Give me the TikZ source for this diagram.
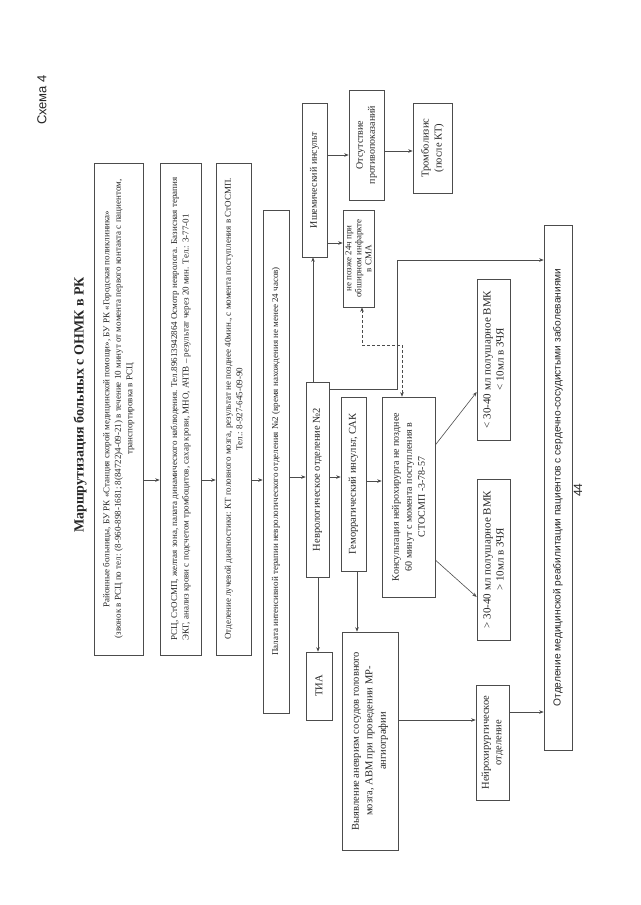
\documentclass[tikz,border=0pt]{standalone}
\usepackage{fontspec}
\setmainfont{Liberation Serif}
\newfontfamily\arialf{Liberation Sans}
\usetikzlibrary{arrows.meta}
\begin{document}
\begin{tikzpicture}[x=1pt,y=-1pt,
  box/.style={draw=black!70, line width=0.6pt, rotate=90, inner sep=1pt, align=center,
    font=\fontsize{9}{11.5}\selectfont, text=black!85},
  fs/.style 2 args={font=\fontsize{#1}{#2}\selectfont},
  arr/.style={draw=black!70, line width=0.6pt, -{Stealth[length=4.5pt,width=3.5pt]}},
  dline/.style={draw=black!70, line width=0.6pt, dash pattern=on 3pt off 2pt,
    {Stealth[length=4.5pt,width=3.5pt]}-{Stealth[length=4.5pt,width=3.5pt]}},
  lbl/.style={rotate=90, text=black!85}]
\useasboundingbox (0,0) rectangle (640,905);

% titles
\node[lbl, font=\arialf\fontsize{13}{15}\selectfont] (schema) at (42,100) {Схема 4};
\node[lbl, font=\bfseries\fontsize{14}{16}\selectfont] (title) at (80,405) {Маршрутизация больных с ОНМК в РК};
\node[lbl, font=\arialf\fontsize{12}{14}\selectfont] (page) at (578,490) {44};

% boxes
\node[box, minimum width=492pt, minimum height=49pt] (A) at (118.5,409)
 {Районные больницы, БУ РК «Станция скорой медицинской помощи», БУ РК «Городская поликлиника»\\
  (звонок в РСЦ по тел: (8-960-898-1681; 8(84722)4-09-21) в течение 10 минут от момента первого контакта с пациентом,\\
  транспортировка в РСЦ};
\node[box, align=left, minimum width=492pt, minimum height=41pt] (B) at (180.5,409)
 {РСЦ, СтОСМП, желтая зона, палата динамического наблюдения. Тел.89613942864 Осмотр невролога. Базисная терапия\\
  ЭКГ, анализ крови с подсчетом тромбоцитов, сахар крови, МНО, АЧТВ – результат через 20 мин. Тел.: 3-77-01};
\node[box, minimum width=492pt, minimum height=35pt] (C) at (233.5,409)
 {Отделение лучевой диагностики: КТ головного мозга, результат не позднее 40мин., с момента поступления в СтОСМП.\\
  Тел.: 8-927-645-09-90};
\node[box, minimum width=503pt, minimum height=26pt] (D) at (276,461.5)
 {Палата интенсивной терапии неврологического отделения №2 (время нахождения не менее 24 часов)};
\node[box, fs={10.5}{12.8}, minimum width=195pt, minimum height=23pt] (E) at (317.5,479.5)
 {Неврологическое отделение №2};
\node[box, fs={10}{12}, minimum width=154pt, minimum height=25pt] (F) at (314.5,180)
 {Ишемический инсульт};
\node[box, fs={10}{12}, minimum width=110pt, minimum height=35pt] (G) at (366.5,145)
 {Отсутствие\\противопоказаний};
\node[box, fs={10.5}{12.8}, minimum width=90pt, minimum height=39pt] (H) at (432.5,148)
 {Тромболизис\\(после КТ)};
\node[box, fs={9}{10}, minimum width=97pt, minimum height=31pt] (I) at (358.5,258.5)
 {не позже 24ч при\\обширном инфаркте\\в СМА};
\node[box, fs={10.5}{12.8}, minimum width=174pt, minimum height=25pt] (J) at (353.5,484)
 {Геморрагический инсульт, САК};
\node[box, fs={10}{13}, minimum width=200pt, minimum height=53pt] (K) at (408.5,497)
 {Консультация нейрохирурга не позднее\\60 минут с момента поступления в\\СТОСМП -3-78-57};
\node[box, fs={11}{13}, minimum width=161pt, minimum height=33pt] (L) at (493.5,359.5)
 {< 30-40 мл полушарное ВМК\\< 10мл в ЗЧЯ};
\node[box, fs={11}{13}, minimum width=161pt, minimum height=33pt] (M) at (493.5,559.5)
 {> 30-40 мл полушарное ВМК\\> 10мл в ЗЧЯ};
\node[box, fs={10.5}{12.8}, minimum width=68pt, minimum height=26pt] (N) at (319,686)
 {ТИА};
\node[box, fs={10.5}{13.5}, minimum width=218pt, minimum height=56pt] (O) at (370,741)
 {Выявление аневризм сосудов головного\\мозга, АВМ при проведении МР-\\ангиографии};
\node[box, fs={10.5}{12.5}, minimum width=115pt, minimum height=33pt] (P) at (492.5,742.5)
 {Нейрохирургическое\\отделение};
\node[box, minimum width=525pt, minimum height=28pt, font=\arialf\fontsize{10.2}{12}\selectfont] (Q) at (558,487.5)
 {Отделение медицинской реабилитации пациентов с сердечно-сосудистыми заболеваниями};

% connectors
\draw[arr] (A.south |- 0,480) -- (B.north |- 0,480);
\draw[arr] (B.south |- 0,480) -- (C.north |- 0,480);
\draw[arr] (C.south |- 0,480) -- (D.north |- 0,480);
\draw[arr] (D.south |- 0,477) -- (E.north |- 0,477);
\draw[arr] (E.south |- 0,477) -- (J.north |- 0,477);
\draw[arr] (J.south |- 0,481) -- (K.north |- 0,481);
\draw[arr] (K.south |- 0,445) -- (L.north |- 0,392);
\draw[arr] (K.south |- 0,560) -- (M.north |- 0,597);
\draw[arr] (E.east -| 313,0) -- (F.west -| 313,0);
\draw[arr] (F.south |- 0,155) -- (G.north |- 0,155);
\draw[arr] (F.south |- 0,243) -- (I.north |- 0,243);
\draw[arr] (G.south |- 0,151) -- (H.north |- 0,151);
\draw[arr] (E.south |- 0,389) -- (397,389) -- (397,260) -- (Q.north |- 0,260);
\draw[dline] (I.west -| 362,0) -- (362,345) -- (402,345) -- (K.east -| 402,0);
\draw[arr] (E.west -| 318,0) -- (N.east -| 318,0);
\draw[arr] (J.west -| 357,0) -- (O.east -| 357,0);
\draw[arr] (O.south |- 0,720) -- (P.north |- 0,720);
\draw[arr] (P.south |- 0,712) -- (Q.north |- 0,712);
\end{tikzpicture}
\end{document}
